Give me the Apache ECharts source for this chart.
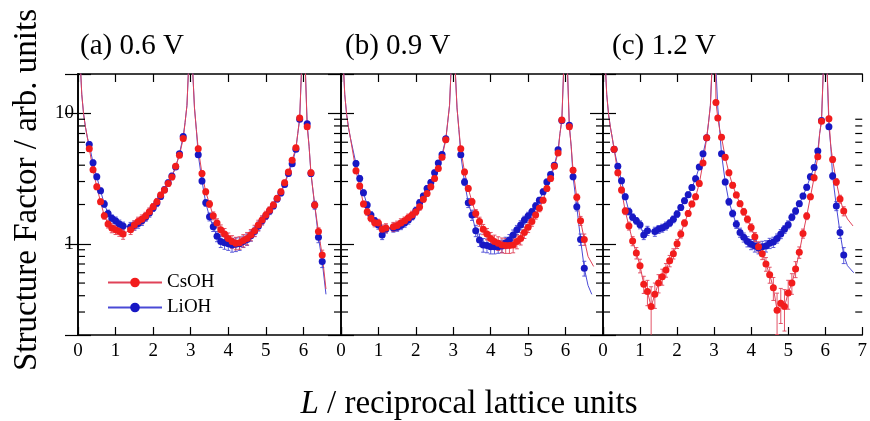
<!DOCTYPE html>
<html>
<head>
<meta charset="utf-8">
<script src="https://cdn.jsdelivr.net/npm/echarts@6/dist/echarts.min.js"></script>
<style>
  html, body { margin: 0; background: #fff; }
  #chart { width: 870px; height: 421px; }
</style>
</head>
<body>
<div id="chart"></div>
<script>
// L values shared by all data sets (null where a set has no point)
const L = [0.3,0.4,0.5,0.6,0.7,0.8,0.9,1.0,1.1,1.2,1.3,1.4,1.5,1.6,1.7,1.8,1.9,2.0,2.1,2.2,2.3,2.4,2.5,2.6,2.7,2.8,
  3.05,3.1,3.2,3.3,3.4,3.5,3.6,3.7,3.8,3.9,4.0,4.1,4.2,4.3,4.4,4.5,4.6,4.7,4.8,4.9,5.0,5.1,5.2,5.3,5.4,5.5,5.6,5.7,5.8,5.9,
  6.1,6.2,6.3,6.4,6.5]

// (a) 0.6 V
const csA = [5.36,3.7,2.73,2.1,1.64,1.42,1.32,1.28,1.24,1.19,null,1.28,1.39,1.48,1.54,1.63,1.76,1.92,2.1,2.36,2.58,2.9,3.25,3.92,4.76,6.4,
  null,null,5.36,3.45,2.5,2.02,1.64,1.44,1.28,1.19,1.1,1.04,1.01,1.02,1.06,1.1,1.17,1.26,1.39,1.52,1.66,1.81,1.98,2.23,2.5,2.93,3.55,4.36,5.45,9.2,
  7.9,3.5,1.98,1.24,0.82]
const liA = [5.77,4.17,3.26,2.55,2.02,1.71,1.57,1.5,1.42,1.37,null,1.35,1.38,1.43,1.5,1.6,1.72,1.88,2.05,2.3,2.6,2.93,3.3,3.88,4.9,6.64,
  null,null,4.82,3.03,2.06,1.61,1.35,1.14,1.04,1.02,1.0,0.98,0.99,1.0,1.04,1.08,1.15,1.24,1.36,1.5,1.63,1.78,1.95,2.2,2.45,2.85,3.45,4.1,5.3,9.0,
  8.3,3.45,1.98,1.12,0.73]
// (b) 0.9 V
const csB = [null,3.62,2.77,2.02,1.76,1.57,1.45,1.44,1.29,1.32,null,1.35,1.38,1.44,1.5,1.58,1.66,1.76,1.92,2.19,2.43,2.73,3.17,3.77,4.6,6.27,
  null,null,5.36,3.55,2.65,2.1,1.71,1.48,1.29,1.19,1.1,1.04,1.01,0.98,0.97,0.97,0.98,1.04,1.1,1.22,1.34,1.48,1.66,1.87,2.16,2.65,3.17,3.92,4.97,8.9,
  7.9,3.66,2.27,1.5,1.08]
const liB = [null,4.12,3.17,2.46,1.98,1.66,1.5,1.39,1.17,1.3,null,1.32,1.34,1.38,1.44,1.52,1.62,1.8,2.06,2.32,2.65,2.95,3.5,4.16,4.84,6.37,
  null,null,4.82,2.98,2.06,1.66,1.26,1.07,0.98,0.97,0.95,0.95,0.95,0.96,1.02,1.07,1.17,1.28,1.39,1.52,1.63,1.76,1.95,2.16,2.5,2.98,3.4,4.0,5.26,8.8,
  8.1,3.26,1.92,1.08,0.65]
// (c) 1.2 V
const csC = [5.3,3.5,2.58,1.78,1.37,1.05,0.85,0.68,0.49,0.43,0.33,0.41,0.5,0.56,0.63,0.74,0.84,1.0,1.19,1.44,1.71,2.02,2.29,2.9,4.16,6.5,
  12.1,9.2,6.56,4.6,3.5,2.81,2.37,2.03,1.76,1.54,1.33,1.13,0.95,0.84,0.7,0.58,0.46,0.31,0.35,0.33,0.42,0.5,0.64,0.86,1.2,1.63,2.29,3.2,4.65,8.7,
  9.1,4.42,2.98,2.2,1.78]
const liC = [5.3,3.92,3.04,2.29,1.77,1.6,1.5,1.4,1.17,1.26,null,1.24,1.29,1.32,1.37,1.44,1.54,1.69,1.9,2.14,2.38,2.7,3.15,3.88,4.9,6.5,
  null,null,4.9,2.98,2.1,1.71,1.41,1.22,1.12,1.04,0.99,0.96,0.93,0.95,0.96,1.01,1.03,1.1,1.19,1.29,1.4,1.6,1.78,2.03,2.32,2.71,3.26,3.85,5.15,8.8,
  7.9,3.3,1.95,1.22,0.82]

// relative error bars
const errCsA = [.05,.05,.05,.05,.06,.07,.08,.08,.08,.09,0,.08,.08,.08,.08,.07,.07,.06,.06,.05,.05,.05,.05,.04,.04,.04,
  0,0,.04,.05,.05,.06,.07,.08,.09,.1,.1,.11,.11,.11,.11,.11,.1,.1,.09,.08,.07,.06,.06,.05,.05,.05,.04,.04,.04,.04,
  .04,.05,.06,.07,.09]
const errLiA = [.05,.05,.05,.05,.06,.06,.06,.07,.07,.07,0,.08,.08,.08,.08,.07,.07,.06,.06,.05,.05,.05,.05,.04,.04,.04,
  0,0,.04,.05,.06,.07,.08,.09,.1,.11,.11,.12,.12,.11,.1,.1,.09,.08,.08,.07,.06,.06,.05,.05,.05,.04,.04,.04,.04,.04,
  .04,.05,.07,.09,.1]
const errCsB = [0,.05,.05,.05,.06,.06,.07,.07,.08,.08,0,.08,.08,.08,.07,.07,.07,.06,.06,.05,.05,.05,.05,.04,.04,.04,
  0,0,.04,.05,.05,.06,.07,.08,.09,.1,.11,.12,.12,.13,.13,.13,.13,.12,.11,.1,.09,.08,.07,.06,.05,.05,.05,.04,.04,.04,
  .04,.05,.06,.08,.1]
const errLiB = [0,.05,.05,.05,.06,.06,.06,.07,.08,.07,0,.07,.07,.07,.07,.07,.06,.06,.06,.05,.05,.05,.05,.04,.04,.04,
  0,0,.04,.06,.08,.09,.1,.11,.12,.12,.12,.12,.11,.11,.1,.1,.09,.08,.08,.07,.07,.06,.06,.05,.05,.05,.04,.04,.04,.04,
  .04,.05,.07,.1,.13]
const errCsC = [.05,.05,.05,.06,.07,.08,.1,.12,.15,.22,.42,.22,.16,.14,.12,.1,.09,.08,.07,.06,.05,.05,.05,.05,.04,.04,
  .04,.04,.04,.05,.05,.05,.05,.05,.06,.06,.07,.08,.09,.1,.12,.14,.2,.35,.3,.35,.25,.18,.14,.1,.08,.06,.05,.05,.04,.04,
  .04,.05,.06,.07,.08]
const errLiC = [.05,.05,.05,.05,.06,.06,.06,.07,.08,.08,0,.08,.07,.07,.07,.06,.06,.06,.05,.05,.05,.05,.05,.04,.04,.04,
  0,0,.04,.05,.06,.06,.07,.08,.08,.09,.09,.1,.1,.1,.1,.09,.09,.08,.08,.07,.07,.06,.06,.05,.05,.05,.05,.04,.04,.04,
  .04,.06,.08,.1,.14]

// fit curves near the Bragg peaks (L = 0, 3, 6), shared by all panels
const peakL = [0.02,0.05,0.1,0.15,0.2,0.25,2.85,2.9,2.95,3.0,3.05,3.1,3.15,5.85,5.95,6.0,6.05,6.15]
const peakV = [80,28,14,9.8,7.8,6.5,8.5,11.5,25,300,22,11,7.5,7,22,300,22,5.6]
// fit tails beyond the last point
const tailCsA = [[6.6], [0.45]]
const tailLiA = [[6.6], [0.41]]
const tailCsB = [[6.6, 6.75], [0.8, 0.67]]
const tailLiB = [[6.6, 6.7], [0.48, 0.41]]
const tailCsC = [[6.6, 6.75], [1.55, 1.37]]
const tailLiC = [[6.6, 6.77], [0.68, 0.6]]

const minorTicks = [0.3,0.4,0.5,0.6,0.7,0.8,0.9,2,3,4,5,6,7,8,9]
const panelTitles = ['(a) 0.6 V', '(b) 0.9 V', '(c) 1.2 V']

const RED = '#f21c1c'
const BLUE = '#1818c4'
const RED_LINE = '#e04258'
const BLUE_LINE = '#4a4ad6'
const FONT = '"Liberation Serif", "DejaVu Serif", serif'

const panels = [
  { cs: csA, li: liA, ecs: errCsA, eli: errLiA, tcs: tailCsA, tli: tailLiA },
  { cs: csB, li: liB, ecs: errCsB, eli: errLiB, tcs: tailCsB, tli: tailLiB },
  { cs: csC, li: liC, ecs: errCsC, eli: errLiC, tcs: tailCsC, tli: tailLiC }
]

const points = (vals) => L.map((l, i) => vals[i] == null ? null : [l, vals[i]]).filter(Boolean)

const errorData = (vals, err) =>
  L.map((l, i) => (vals[i] == null || !err[i]) ? null : [l, vals[i] * (1 - err[i]), vals[i] * (1 + err[i])]).filter(Boolean)

const fitData = (vals, tail) => {
  const pts = points(vals)
  const have = new Set(pts.map(p => p[0]))
  peakL.forEach((l, i) => { if (!have.has(l)) pts.push([l, peakV[i]]) })
  tail[0].forEach((l, i) => pts.push([l, tail[1][i]]))
  return pts.sort((a, b) => a[0] - b[0])
}

const grids = [
  { left: 78, top: 74, width: 263, height: 261 },
  { left: 341, top: 74, width: 262, height: 261 },
  { left: 603, top: 74, width: 263, height: 261 }
]

const xAxis = []
const yAxis = []
grids.forEach((g, i) => {
  const base = {
    type: 'value', gridIndex: i, min: 0, max: 7, interval: 1,
    axisLine: { lineStyle: { color: '#000', width: 1.6 } },
    axisTick: { inside: true, length: 8, lineStyle: { color: '#000', width: 1.2 } },
    splitLine: { show: false }
  }
  xAxis.push(Object.assign({}, base, {
    position: 'bottom',
    axisLabel: {
      color: '#000', fontFamily: FONT, fontSize: 19, margin: 7,
      formatter: v => (i < 2 && v === 7) ? '' : String(v)
    }
  }))
  xAxis.push(Object.assign({}, base, { position: 'top', axisLabel: { show: false } }))

  const ybase = {
    type: 'log', logBase: 10, gridIndex: i, min: 0.2, max: 20,
    axisLine: { lineStyle: { color: '#000', width: 1.6 } },
    axisTick: { inside: true, length: 13, lineStyle: { color: '#000', width: 1.2 } },
    splitLine: { show: false }
  }
  yAxis.push(Object.assign({}, ybase, {
    position: 'left',
    axisLabel: {
      show: i === 0, color: '#000', fontFamily: FONT, fontSize: 19, margin: 4,
      formatter: v => (Math.abs(v - 1) < 1e-6 || Math.abs(v - 10) < 1e-6) ? String(Math.round(v)) : ''
    }
  }))
  yAxis.push(Object.assign({}, ybase, { position: 'right', axisLabel: { show: false } }))
})

const series = []
panels.forEach((p, i) => {
  const ax = { xAxisIndex: i * 2, yAxisIndex: i * 2 }
  // fitted curves
  series.push(Object.assign({
    type: 'line', name: i === 0 ? 'LiOH' : 'LiOH fit', data: fitData(p.li, p.tli),
    symbol: 'circle', symbolSize: 11, showSymbol: false, silent: true,
    lineStyle: { color: BLUE_LINE, width: 1 }, itemStyle: { color: BLUE }, z: 2
  }, ax))
  series.push(Object.assign({
    type: 'line', name: i === 0 ? 'CsOH' : 'CsOH fit', data: fitData(p.cs, p.tcs),
    symbol: 'circle', symbolSize: 11, showSymbol: false, silent: true,
    lineStyle: { color: RED_LINE, width: 1 }, itemStyle: { color: RED }, z: 2
  }, ax))
  // error bars
  ;[[p.li, p.eli, BLUE_LINE], [p.cs, p.ecs, RED_LINE]].forEach(([vals, err, color]) => {
    series.push(Object.assign({
      type: 'custom', clip: true, silent: true, z: 3,
      data: errorData(vals, err),
      encode: { x: 0, y: [1, 2] },
      renderItem: (params, api) => {
        const lo = api.coord([api.value(0), api.value(1)])
        const hi = api.coord([api.value(0), api.value(2)])
        const st = { stroke: color, lineWidth: 0.9 }
        return {
          type: 'group',
          children: [
            { type: 'line', shape: { x1: lo[0], y1: lo[1], x2: hi[0], y2: hi[1] }, style: st },
            { type: 'line', shape: { x1: lo[0] - 2, y1: lo[1], x2: lo[0] + 2, y2: lo[1] }, style: st },
            { type: 'line', shape: { x1: hi[0] - 2, y1: hi[1], x2: hi[0] + 2, y2: hi[1] }, style: st }
          ]
        }
      }
    }, ax))
  })
  // data points
  series.push(Object.assign({
    type: 'scatter', name: 'LiOH pts', data: points(p.li), symbolSize: 7,
    itemStyle: { color: BLUE, opacity: 1 }, z: 4
  }, ax))
  series.push(Object.assign({
    type: 'scatter', name: 'CsOH pts', data: points(p.cs), symbolSize: 7,
    itemStyle: { color: RED, opacity: 1 }, z: 5
  }, ax))
  // minor ticks of the log axis, both sides
  series.push(Object.assign({
    type: 'custom', silent: true, z: 6,
    data: minorTicks.map(v => [0, v]),
    renderItem: (params, api) => {
      const v = api.value(1)
      const l = api.coord([0, v])
      const r = api.coord([7, v])
      const st = { stroke: '#000', lineWidth: 1.2 }
      return {
        type: 'group',
        children: [
          { type: 'line', shape: { x1: l[0], y1: l[1], x2: l[0] + 7, y2: l[1] }, style: st },
          { type: 'line', shape: { x1: r[0] - 7, y1: r[1], x2: r[0], y2: r[1] }, style: st }
        ]
      }
    }
  }, ax))
})

const chart = echarts.init(document.getElementById('chart'))

chart.setOption({
  animation: false,
  backgroundColor: '#fff',
  grid: grids,
  xAxis: xAxis,
  yAxis: yAxis,
  legend: {
    data: ['CsOH', 'LiOH'],
    orient: 'vertical',
    left: 102,
    top: 268,
    itemWidth: 54,
    itemHeight: 12,
    itemGap: 6,
    textStyle: { color: '#000', fontFamily: FONT, fontSize: 19 },
    selectedMode: false
  },
  graphic: [
    ...panelTitles.map((t, i) => ({
      type: 'text', left: [80, 345, 612][i], top: 32,
      style: { text: t, font: '29px ' + FONT, fill: '#000' }
    })),
    {
      type: 'text', x: 469, y: 404,
      style: {
        text: '{i|L} / reciprocal lattice units',
        font: '33px ' + FONT, fill: '#000', align: 'center', verticalAlign: 'middle',
        rich: { i: { fontStyle: 'italic', fontSize: 33, fontFamily: FONT } }
      }
    },
    {
      type: 'text', x: 27, y: 190, rotation: Math.PI / 2,
      style: {
        text: 'Structure Factor / arb. units',
        font: '33px ' + FONT, fill: '#000', align: 'center', verticalAlign: 'middle'
      }
    }
  ],
  series: series
})

window.addEventListener('resize', () => chart.resize())
</script>
</body>
</html>
